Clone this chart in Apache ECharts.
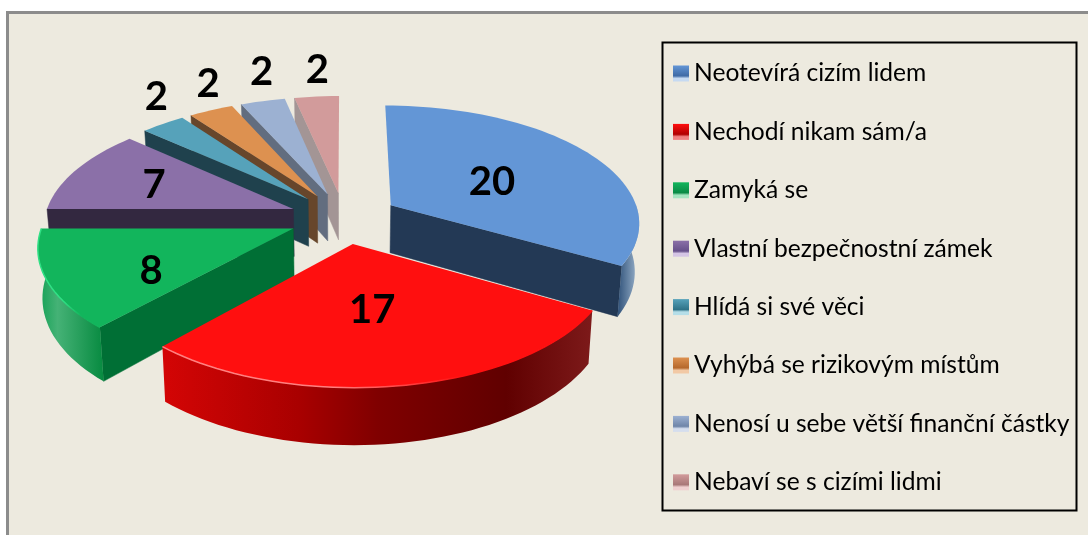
<!DOCTYPE html>
<html>
<head>
<meta charset="utf-8">
<style>html,body{margin:0;padding:0;background:#fff}#main{width:1088px;height:535px}</style>
<script src="https://cdn.jsdelivr.net/npm/echarts@6/dist/echarts.min.js"></script>
</head>
<body>
<div id="main"></div>
<script>
var categories = ['Neotevírá cizím lidem','Nechodí nikam sám/a','Zamyká se','Vlastní bezpečnostní zámek','Hlídá si své věci','Vyhýbá se rizikovým místům','Nenosí u sebe větší finanční částky','Nebaví se s cizími lidmi'];
var values = [20,17,8,7,2,2,2,2];

//barvy
var topColors = ['#6396D6','#FF0F0F','#12B55C','#8B70A8','#56A2BA','#DD9150','#9CB1D2','#D29B9B'];
var faceColors = ['#233955','#7F0000','#006F35','#332840','#1F414D','#67462B','#626D7F','#A39595'];
var keyDark = ['#3F6AA5','#B00000','#0A8A45','#66508A','#2F7388','#B5682C','#6F85A8','#A87878'];
var keyLight = ['#C6DAF2','#F08080','#A5E5C0','#D5C5E5','#B5DEE8','#F2C9A5','#D5DEEE','#EFD0D0'];
var rimStops = [
	[[0,'#2F5179'],[1,'#A0B8D0']],
	[[0,'#D40505'],[0.32,'#A80000'],[0.5,'#800000'],[0.8,'#600000'],[1,'#7D1A1A']],
	[[0,'#12A054'],[0.3,'#45B276'],[1,'#078A40']],
	[[0,'#332840'],[1,'#332840']],[[0,'#1F414D'],[1,'#1F414D']],[[0,'#67462B'],[1,'#67462B']],[[0,'#626D7F'],[1,'#626D7F']],[[0,'#A39595'],[1,'#A39595']]
];
var hiliteColors = [null,'#FF8080','#30E085',null,null,null,null,null];
var labelRadius = [0.5,0.44,0.59,0.63,1.05,1.03,1.02,0.97];
var labelLift = [-4,-9,-13,-1,23,24,27,29];

//透视参数
var CX = 344, CY = 218, WX = 249, HY = 116.5, P = 0.135, DEPTH = 48, EXPLODE = 0.22;
var RAD = Math.PI / 180;

function project(X, z, lower){
	var s = 1 / (1 + P * z);
	var x = CX + WX * X * s, y = CY - HY * z * s;
	if(lower){
		x = CX + (x - CX) * 0.985;
		y += DEPTH * s;
	}
	return [x, y];
}

function arcPoints(ox, oz, from, to, lower){
	var pts = [], n = Math.max(2, Math.ceil((to - from) / 2));
	for(var i = 0; i <= n; i++){
		var t = (from + (to - from) * i / n) * RAD;
		pts.push(project(ox + Math.sin(t), oz + Math.cos(t), lower));
	}
	return pts;
}

function renderSlice(params, api){
	var idx = params.seriesIndex;
	var value = api.value(0), a = api.value(1), b = api.value(2);
	var mid = (a + b) / 2 * RAD;
	var ox = EXPLODE * Math.sin(mid), oz = EXPLODE * Math.cos(mid);
	var children = [];
	var apex = project(ox, oz, false), apexLow = project(ox, oz, true);

	//切面
	function cutFace(t){
		var top = arcPoints(ox, oz, t, t + 0.001, false)[0];
		var low = arcPoints(ox, oz, t, t + 0.001, true)[0];
		children.push({type:'polygon', shape:{points:[apex, top, low, apexLow]},
			style:{fill:faceColors[idx], stroke:faceColors[idx], lineWidth:0.5}});
	}
	if(Math.sin(a * RAD) < -0.001) cutFace(a);
	if(Math.sin(b * RAD) > 0.001) cutFace(b);

	//外弧
	var r1 = Math.max(a, 90), r2 = Math.min(b, 270);
	var rimTop = null;
	if(r2 > r1){
		rimTop = arcPoints(ox, oz, r1, r2, false);
		var rimLow = arcPoints(ox, oz, r1, r2, true);
		var xs = rimTop.concat(rimLow).map(function(p){return p[0];});
		var x0 = Math.min.apply(null, xs), x1 = Math.max.apply(null, xs);
		var stops = rimStops[idx].map(function(s){return {offset:s[0], color:s[1]};});
		children.push({type:'polygon', shape:{points:rimTop.concat(rimLow.slice().reverse())},
			style:{fill:new echarts.graphic.LinearGradient(x0,0,x1,0,stops,true)}});
	}

	//顶面
	var topPts = [apex].concat(arcPoints(ox, oz, a, b, false));
	children.push({type:'polygon', shape:{points:topPts}, style:{fill:topColors[idx]}});

	//高光
	if(rimTop && hiliteColors[idx]){
		var hx = rimTop.map(function(p){return p[0];});
		var h0 = Math.min.apply(null, hx), h1 = Math.max.apply(null, hx);
		children.push({type:'polyline', shape:{points:rimTop}, style:{fill:'none', lineWidth:1.5,
			stroke:new echarts.graphic.LinearGradient(h0,0,h1,0,[
				{offset:0, color:hiliteColors[idx]},
				{offset:0.4, color:hiliteColors[idx]},
				{offset:0.7, color:topColors[idx]},
				{offset:1, color:topColors[idx]}
			],true)}});
	}

	//数值
	var lr = labelRadius[idx];
	var lp = project(ox + lr * Math.sin(mid), oz + lr * Math.cos(mid), false);
	children.push({type:'text', z2:10, style:{x:lp[0], y:lp[1] - labelLift[idx], text:String(value),
		align:'center', verticalAlign:'middle', fill:'#000',
		font:'bold 40px Lato, "Open Sans", sans-serif'}});
	return {type:'group', children:children};
}

var total = 0, i;
for(i = 0; i < values.length; i++) total += values[i];

var series = [], legendData = [], run = 0;
for(i = 0; i < values.length; i++){
	var start = run / total * 360;
	run += values[i];
	var end = run / total * 360;
	series.push({
		type:'custom', name:categories[i], coordinateSystem:'none', silent:true,
		z: 10 - Math.cos((start + end) / 2 * RAD),
		renderItem:renderSlice,
		itemStyle:{color:topColors[i]},
		data:[[values[i], start, end]]
	});
	legendData.push({name:categories[i], itemStyle:{color:new echarts.graphic.LinearGradient(0,0,0,1,[
		{offset:0, color:topColors[i]},
		{offset:0.65, color:keyDark[i]},
		{offset:0.8, color:keyLight[i]},
		{offset:1, color:keyLight[i]}
	])}});
}

var myChart = echarts.init(document.getElementById('main'));
myChart.setOption({
	animation:false,
	backgroundColor:'#fff',
	graphic:[
		{type:'rect', z:-1, silent:true, shape:{x:7.5,y:12.5,width:1300,height:700},
			style:{fill:'#EDEADF', stroke:'#8C8C8C', lineWidth:3}},
		{type:'rect', z:1, silent:true, shape:{x:662.5,y:42.5,width:414,height:468},
			style:{fill:'none', stroke:'#000', lineWidth:2}}
	],
	legend:{
		orient:'vertical', left:673, top:61, padding:0, icon:'rect', selectedMode:false,
		itemWidth:16, itemHeight:16, itemGap:33.4,
		textStyle:{fontFamily:'Lato, "Open Sans", sans-serif', fontSize:24.6, lineHeight:24, color:'#000'},
		data:legendData
	},
	series:series
});
</script>
</body>
</html>
